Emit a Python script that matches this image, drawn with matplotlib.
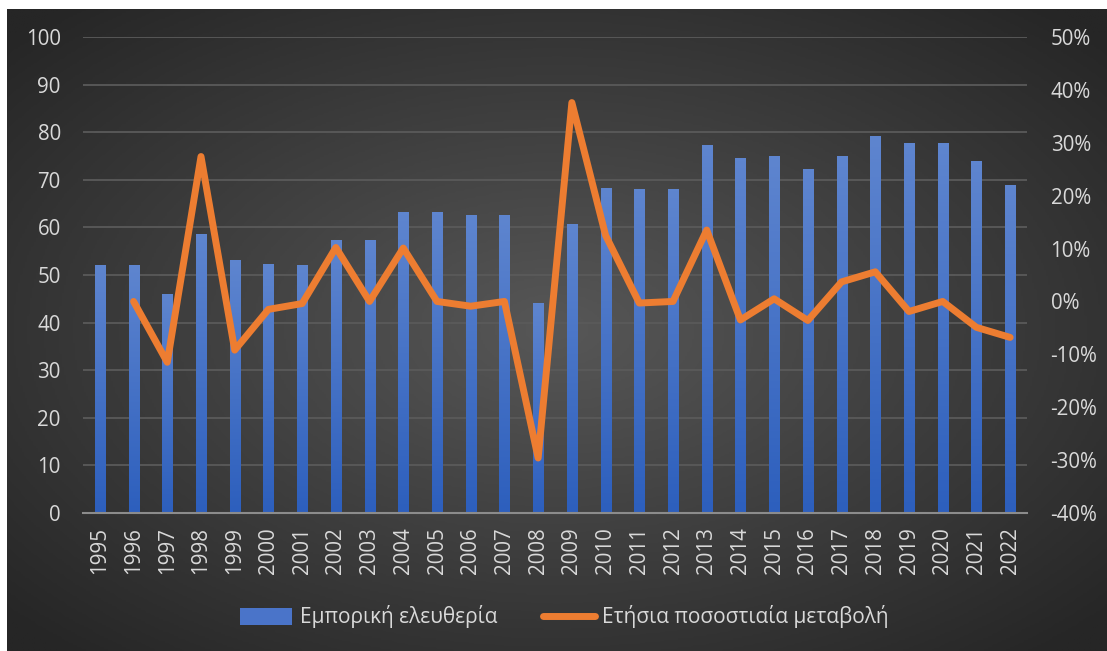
import numpy as np
import matplotlib
matplotlib.use("Agg")
import matplotlib.pyplot as plt
from matplotlib.ticker import FuncFormatter
from matplotlib.lines import Line2D
from matplotlib.patches import Patch

plt.rcParams['font.family'] = ['Open Sans', 'DejaVu Sans']

# data
years = [str(y) for y in range(1995, 2023)]
freedom = [52.0, 52.0, 46.0, 58.6, 53.2, 52.3, 52.1, 57.4, 57.4, 63.2,
           63.2, 62.6, 62.6, 44.1, 60.7, 68.3, 68.1, 68.1, 77.3, 74.6,
           75.0, 72.3, 75.0, 79.2, 77.7, 77.7, 73.9, 68.9]
# annual % change (no value for 1995)
change = [np.nan, 0.0, -11.5, 27.4, -9.2, -1.5, -0.4, 10.2, 0.0, 10.1,
          0.0, -0.9, 0.0, -29.6, 37.6, 12.5, -0.3, 0.0, 13.5, -3.5,
          0.5, -3.6, 3.7, 5.6, -1.9, 0.0, -4.9, -6.8]

txt = '#d9d9d9'
fs = 14.8
W, H = 1107, 651
fig = plt.figure(figsize=(W / 100, H / 100), dpi=100)
fig.patch.set_facecolor('white')

# dark radial background
bg = fig.add_axes([7 / W, 0, 1100 / W, 642 / H])
bg.set_axis_off()
yy, xx = np.mgrid[-1:1:300j, -1:1:500j]
r = np.sqrt(xx ** 2 + yy ** 2)
bg.imshow(r, cmap=matplotlib.colors.LinearSegmentedColormap.from_list('bg', ['#575757', '#262626']),
          vmin=0, vmax=1.35, aspect='auto', extent=[0, 1, 0, 1])
bg.set_xlim(0, 1)
bg.set_ylim(0, 1)

ax = fig.add_axes([83 / W, 1 - 513 / H, (1027 - 83) / W, (513 - 37) / H])
ax.patch.set_alpha(0)
x = np.arange(len(years))

bars = ax.bar(x, freedom, width=0.3, color='#4a74c9', zorder=3)
grad = np.linspace(0, 1, 100).reshape(-1, 1)
bcmap = matplotlib.colors.LinearSegmentedColormap.from_list('b', ['#2d5fbd', '#5e85cf'])
for b in bars:
    b.set_alpha(0)
    x0, w, h = b.get_x(), b.get_width(), b.get_height()
    im = ax.imshow(grad, cmap=bcmap, aspect='auto', origin='lower',
                   extent=[x0, x0 + w, 0, h], zorder=3)
    im.set_clip_path(b)

ax.set_xlim(-0.5, len(years) - 0.5)
ax.set_ylim(0, 100)
ax.set_yticks(range(0, 101, 10))
ax.set_xticks(x)
ax.set_xticklabels(years, rotation=90)
ax.grid(axis='y', color='#5a5a5a', linewidth=1.3, zorder=0)
for s in ['top', 'right', 'left']:
    ax.spines[s].set_visible(False)
ax.spines['bottom'].set_color('#8c8c8c')
ax.spines['bottom'].set_linewidth(1.5)
ax.spines['bottom'].set_zorder(4)
ax.tick_params(axis='both', length=0, colors=txt, labelsize=fs)
ax.tick_params(axis='y', pad=16)
ax.tick_params(axis='x', pad=10)

ax2 = ax.twinx()
ax2.plot(x, change, color='#ed7d31', linewidth=5, solid_joinstyle='round',
         solid_capstyle='round', zorder=5)
ax2.set_ylim(-40, 50)
ax2.set_yticks(range(-40, 51, 10))
ax2.yaxis.set_major_formatter(FuncFormatter(lambda v, p: f'{v:.0f}%'))
for s in ax2.spines.values():
    s.set_visible(False)
ax2.tick_params(axis='y', length=0, colors=txt, labelsize=fs, pad=17)

handles = [Patch(facecolor='#4a74c9', edgecolor='none'),
           Line2D([0], [0], color='#ed7d31', linewidth=5, solid_capstyle='round')]
leg = fig.legend(handles, ['Εμπορική ελευθερία', 'Ετήσια ποσοστιαία μεταβολή'],
                 loc='center', bbox_to_anchor=(0.51, 1 - 617 / H), ncol=2, frameon=False,
                 fontsize=15, labelcolor=txt, handlelength=2.5, handleheight=0.9,
                 columnspacing=2.2, handletextpad=0.35)

fig.savefig('out.png', dpi=100)
